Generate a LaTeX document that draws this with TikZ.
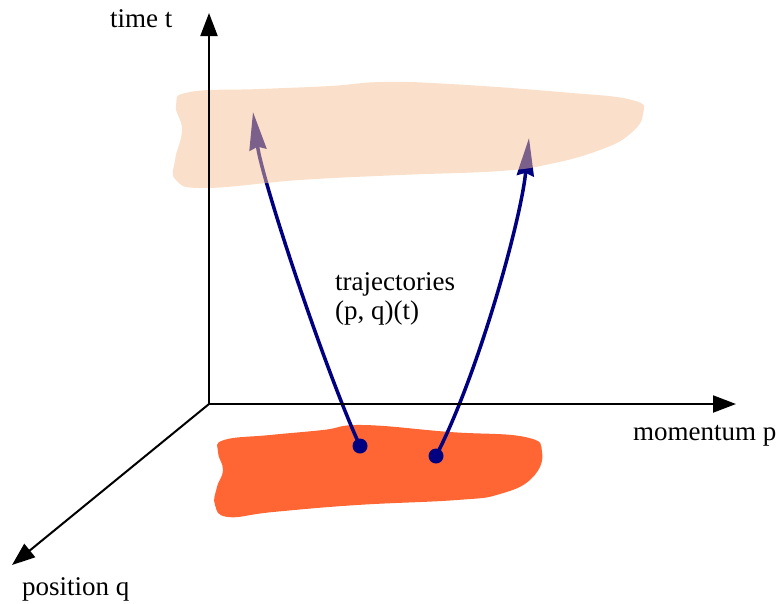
\documentclass[tikz,border=0pt]{standalone}
\usepackage{fontspec}
\setmainfont{Liberation Serif}
\usetikzlibrary{arrows.meta}
\definecolor{navy}{RGB}{0,0,128}
\definecolor{blobtop}{RGB}{245,192,149}
\definecolor{blobbot}{RGB}{255,102,51}
\tikzset{
  axis/.style={line width=2pt,-{Triangle[length=23pt,width=17pt]}},
  traj/.style={line width=3.5pt,navy,-{Stealth[length=38pt,width=17pt,inset=3pt]}},
  lbl/.style={font=\fontsize{27}{29}\selectfont,inner sep=0pt,anchor=base west},
  dot/.style={circle,fill=navy,inner sep=0pt,minimum size=15pt}
}
\begin{document}
\begin{tikzpicture}[x=1pt,y=-1pt]
\useasboundingbox (0,0) rectangle (781,603);
% bottom blob
\fill[blobbot] plot[smooth cycle,tension=0.75] coordinates {(224,440) (270,435) (323,430) (363,425) (450,432) (525,437) (542,452) (532,478) (500,494) (457,500) (357,505) (273,512) (228,517) (215,505) (217,487) (223,470) (218,452)};
% dots
\node[dot] (d1) at (360,446) {};
\node[dot] (d2) at (436,456) {};
\coordinate (t1) at (253,112);
\coordinate (t2) at (529,138);
% trajectories
\draw[traj] (d1.center) .. controls (325,370) and (262,180) .. (t1);
\draw[traj] (d2.center) .. controls (478,375) and (521,220) .. (t2);
% top blob (translucent)
\fill[blobtop,opacity=0.5] plot[smooth cycle,tension=0.75] coordinates {(190,92) (260,89) (330,86) (383,82) (450,84) (560,92) (632,100) (643,114) (630,134) (600,150) (550,164) (500,171) (400,175) (300,180) (205,188) (176,180) (175,160) (182,130) (176,105)};
% axes
\coordinate (o) at (209,404);
\coordinate (tt) at (209,13);
\coordinate (pp) at (736,404);
\coordinate (qq) at (12,565);
\draw[axis] (o) -- (tt);
\draw[axis] (o) -- (pp);
\draw[axis] (o) -- (qq);
% labels
\node[lbl] (lt) at (110,27) {time t};
\node[lbl] (lp) at (633,440) {momentum p};
\node[lbl] (lq) at (22,595) {position q};
\node[lbl,align=left,anchor=north west] (ltr) at (335,272) {trajectories\\(p, q)(t)};
\end{tikzpicture}
\end{document}
